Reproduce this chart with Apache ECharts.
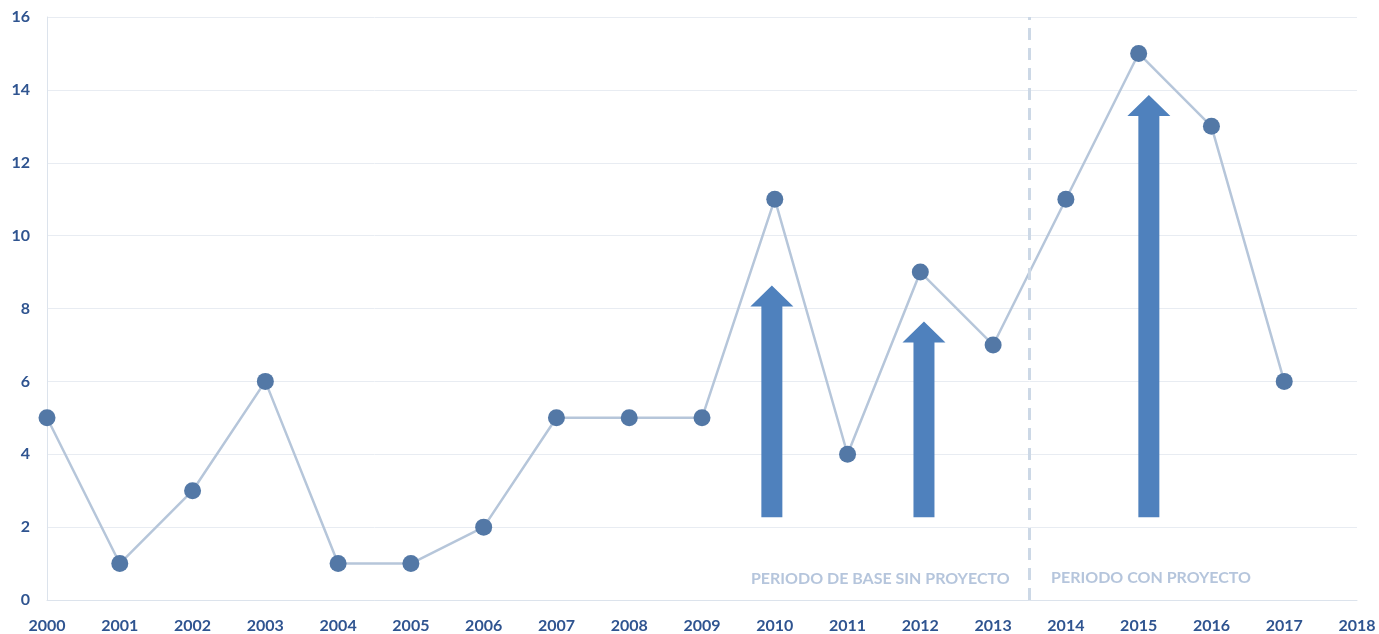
<!DOCTYPE html>
<html>
<head>
<meta charset="utf-8">
<script src="https://cdn.jsdelivr.net/npm/echarts@6/dist/echarts.min.js"></script>
<style>
  html, body { margin: 0; padding: 0; background: #fff; }
</style>
</head>
<body>
<!-- chart container -->
<div id="container" style="width: 1379px;height:634px;"></div>
<script>
  // data
  var years = [2000, 2001, 2002, 2003, 2004, 2005, 2006, 2007, 2008, 2009, 2010, 2011, 2012, 2013, 2014, 2015, 2016, 2017];
  var values = [5, 1, 3, 6, 1, 1, 2, 5, 5, 5, 11, 4, 9, 7, 11, 15, 13, 6];

  // arrows: x position, foot value, tip value
  var arrowX = [2009.96, 2012.05, 2015.14];
  var arrowFoot = [2.27, 2.27, 2.27];
  var arrowTip = [8.63, 7.64, 13.86];

  var periodSplit = 2013.5;
  var periodLabels = ['PERIODO DE BASE SIN PROYECTO', 'PERIODO CON PROYECTO'];
  var periodLabelX = [2011.45, 2015.17];
  var periodLabelY = [0.58, 0.6];

  var myChart = echarts.init(document.getElementById('container'));

  var lineData = years.map(function (y, i) { return [y, values[i]]; });
  var arrowData = arrowX.map(function (x, i) { return [x, arrowFoot[i], arrowTip[i]]; });
  var textData = periodLabels.map(function (t, i) { return {value: [periodLabelX[i], periodLabelY[i]], name: t}; });

  var labelFont = {color: '#2F5490', fontWeight: 'bold', fontSize: 16, fontFamily: 'Lato'};

  myChart.setOption({
    animation: false,
    grid: {left: 47, right: 22, top: 17, bottom: 33, containLabel: false},
    xAxis: {
      type: 'value',
      min: 2000,
      max: 2018,
      interval: 1,
      axisLine: {show: true, lineStyle: {color: '#DCE3EC', width: 1}},
      axisTick: {show: false},
      splitLine: {show: false},
      axisLabel: Object.assign({margin: 18, formatter: function (v) { return String(v); }}, labelFont)
    },
    yAxis: {
      type: 'value',
      min: 0,
      max: 16,
      interval: 2,
      axisLine: {show: true, lineStyle: {color: '#DCE3EC', width: 1}},
      axisTick: {show: false},
      splitLine: {show: true, lineStyle: {color: '#E8ECF2', width: 1}},
      axisLabel: Object.assign({margin: 17}, labelFont)
    },
    series: [
      {
        type: 'line',
        data: lineData,
        z: 3,
        symbol: 'circle',
        symbolSize: 17,
        lineStyle: {color: '#B6C6DA', width: 2.5},
        itemStyle: {color: '#5378A6'},
        markLine: {
          silent: true,
          symbol: ['none', 'none'],
          label: {show: false},
          lineStyle: {color: '#CCD8E6', width: 3, type: [12, 8]},
          data: [{xAxis: periodSplit}]
        }
      },
      {
        type: 'custom',
        z: 4,
        data: arrowData,
        renderItem: function (params, api) {
          var foot = api.coord([api.value(0), api.value(1)]);
          var tip = api.coord([api.value(0), api.value(2)]);
          var cx = foot[0];
          var shaftW = 10.5, headW = 21.5, headH = 21;
          var baseY = tip[1] + headH;
          return {
            type: 'polygon',
            shape: {
              points: [
                [cx - shaftW, foot[1]],
                [cx - shaftW, baseY],
                [cx - headW, baseY],
                [cx, tip[1]],
                [cx + headW, baseY],
                [cx + shaftW, baseY],
                [cx + shaftW, foot[1]]
              ]
            },
            style: {fill: '#4F81BD'}
          };
        }
      },
      {
        type: 'scatter',
        data: textData,
        symbolSize: 0,
        silent: true,
        label: {
          show: true,
          position: 'inside',
          formatter: '{b}',
          color: '#A3B7D3',
          fontWeight: 'bold',
          fontSize: 16,
          fontFamily: 'Lato'
        }
      }
    ]
  });
</script>
</body>
</html>
